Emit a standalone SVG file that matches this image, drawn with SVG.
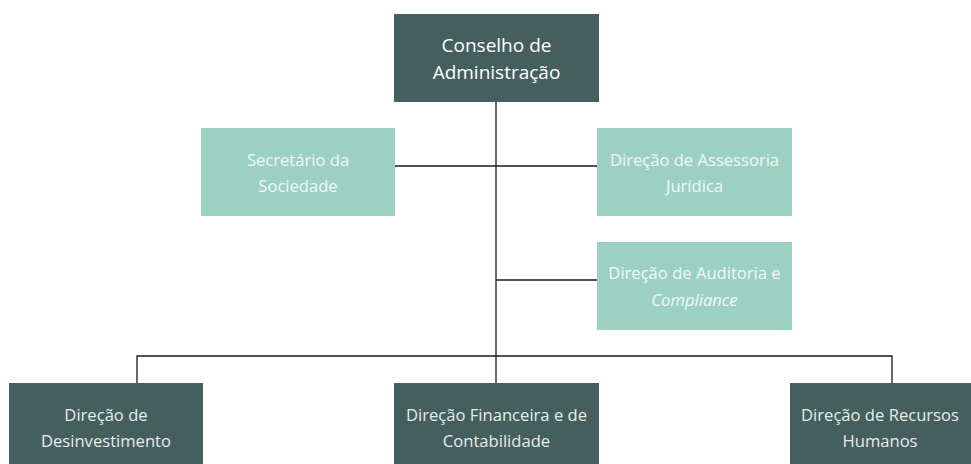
<svg xmlns="http://www.w3.org/2000/svg" width="971" height="464" viewBox="0 0 971 464">
<style>
.dark{fill:#455f5e}
.light{fill:#9cd0c3}
text{font-family:"Open Sans","Liberation Sans",sans-serif;font-size:16.6px;text-anchor:middle}
.tl{fill:#f2f8f6}
.td{fill:#e6ecea}
.top{fill:#ffffff;font-size:19px;font-weight:500}
.conn{stroke:#1a1a1a;stroke-width:1.3;fill:none}
</style>
<rect width="971" height="464" fill="#ffffff"/>
<g id="connectors">
<path class="conn" d="M496 102V383M395 166H597M496 280H597M137 383V356H892V383"/>
</g>
<g id="conselho">
<rect class="dark" x="394" y="14" width="205" height="88"/>
<text class="top" x="496.5" y="52">Conselho de</text>
<text class="top" x="496.5" y="79">Administração</text>
</g>
<g id="secretario">
<rect class="light" x="201" y="128" width="194" height="88"/>
<text class="tl" x="298" y="166">Secretário da</text>
<text class="tl" x="298" y="192">Sociedade</text>
</g>
<g id="assessoria">
<rect class="light" x="597" y="128" width="195" height="88"/>
<text class="tl" x="694.5" y="166">Direção de Assessoria</text>
<text class="tl" x="694.5" y="192">Jurídica</text>
</g>
<g id="auditoria">
<rect class="light" x="597" y="242" width="195" height="88"/>
<text class="tl" x="694.5" y="279">Direção de Auditoria e</text>
<text class="tl" x="694.5" y="306" font-style="italic">Compliance</text>
</g>
<g id="desinvestimento">
<rect class="dark" x="9" y="383" width="194" height="81"/>
<text class="td" x="106" y="421">Direção de</text>
<text class="td" x="106" y="447">Desinvestimento</text>
</g>
<g id="financeira">
<rect class="dark" x="394" y="383" width="205" height="81"/>
<text class="td" x="496.5" y="421">Direção Financeira e de</text>
<text class="td" x="496.5" y="447">Contabilidade</text>
</g>
<g id="recursos">
<rect class="dark" x="790" y="383" width="181" height="81"/>
<text class="td" x="880" y="421">Direção de Recursos</text>
<text class="td" x="880" y="447">Humanos</text>
</g>
</svg>
